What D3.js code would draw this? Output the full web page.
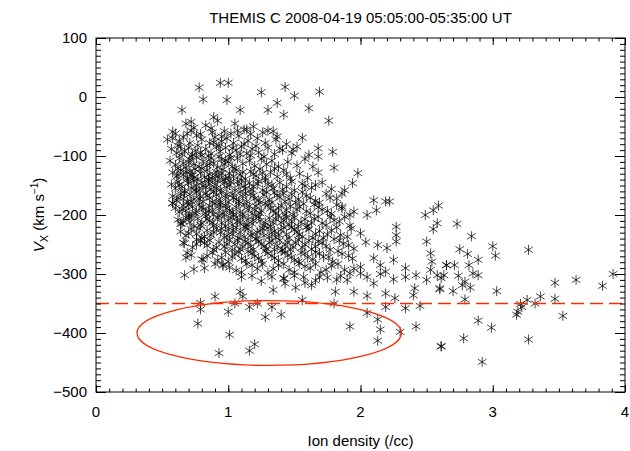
<!DOCTYPE html>
<html>
<head>
<meta charset="utf-8">
<script src="https://cdn.jsdelivr.net/npm/d3@7"></script>
<style>
  body { margin: 0; background: #fff; }
  svg { display: block; font-family: "Liberation Sans", Arial, sans-serif; }
</style>
</head>
<body>
<div id="chart"></div>
<script>
// axis ticks
const xTicks = [0, 1, 2, 3, 4];
const yTicks = [100, 0, -100, -200, -300, -400, -500];

// threshold line and marked region
const thresholdVx = -350;
const ellipseCenter = [1.31, -400];
const ellipseRadii = [1.0, 55];

// scattered points outside the dense core [density, Vx]
const outerPts = [
  [0.78, 16], [0.94, 24], [1.0, 24], [1.25, 8], [0.81, -4], [0.99, -5],
  [0.65, -22], [1.09, -22], [1.30, -22], [0.89, -34], [0.72, -42], [0.58, -59],
  [0.54, -72], [1.30, -57], [0.62, -132], [0.58, -180], [0.93, -83], [1.14, -55],
  [1.43, 17], [1.69, 9], [1.50, 2], [1.37, -10], [1.61, -19], [1.42, -30],
  [1.76, -40], [1.56, -69], [1.37, -67], [1.49, -89], [1.68, -87], [1.79, -93],
  [1.61, -98], [1.68, -101], [1.80, -120], [1.98, -129], [1.94, -146], [1.88, -158],
  [1.86, -164], [1.77, -171], [1.66, -149], [2.10, -175], [2.19, -177], [2.22, -177],
  [2.12, -192], [1.86, -189], [2.59, -184], [2.55, -192], [2.49, -200], [1.92, -200],
  [2.05, -200], [2.58, -214], [2.55, -224], [2.27, -220], [2.27, -234], [2.27, -245],
  [2.50, -245], [2.13, -251], [2.20, -256], [2.53, -265], [2.54, -279], [2.25, -276],
  [2.65, -285], [2.53, -293], [2.34, -290], [2.42, -302], [2.34, -305], [2.58, -302],
  [2.61, -307], [2.50, -310], [2.25, -309], [2.60, -326], [2.41, -324], [2.40, -336],
  [2.26, -341], [2.19, -333], [2.45, -354], [2.34, -358], [2.19, -356], [2.05, -337],
  [2.05, -366], [2.13, -377], [1.92, -389], [2.15, -394], [2.30, -398], [2.42, -389],
  [2.13, -413], [2.61, -422], [1.80, -350], [1.56, -344], [1.40, -369], [1.34, -327],
  [1.43, -316], [1.51, -323], [1.63, -319], [1.81, -330], [1.95, -330], [2.05, -305],
  [2.15, -300], [2.10, -316], [2.00, -299], [1.90, -310], [1.82, -310], [1.69, -305],
  [1.57, -305], [1.42, -307], [2.15, -285], [2.10, -273], [2.19, -296], [2.00, -288],
  [1.92, -299],
  [2.73, -215], [2.84, -236], [2.75, -258], [2.81, -266], [3.00, -253], [3.02, -269],
  [3.27, -259], [2.89, -276], [2.82, -285], [2.65, -285], [2.71, -285], [2.85, -299],
  [2.89, -302], [2.74, -303], [2.63, -302], [2.79, -313], [2.77, -319], [2.83, -323],
  [2.70, -329], [2.60, -324], [2.79, -343], [3.03, -329], [3.47, -315], [3.63, -310],
  [3.83, -320], [3.91, -300], [3.47, -342], [3.36, -338], [3.26, -344], [3.21, -351],
  [3.32, -350], [3.22, -356], [3.19, -364], [3.18, -369], [3.53, -371], [2.89, -379],
  [2.99, -391], [2.78, -409], [2.61, -423], [3.27, -411], [2.92, -449],
  [0.79, -349], [0.79, -360], [0.77, -384], [0.90, -338], [1.01, -403], [0.93, -434],
  [1.16, -430], [1.20, -419], [1.00, -364], [1.05, -350], [1.16, -356], [1.22, -350],
  [1.28, -373], [1.33, -356], [1.09, -330], [1.11, -338], [0.67, -302], [0.74, -292],
  [0.81, -276], [0.68, -272], [0.69, -264], [0.96, -284], [0.66, -247], [0.76, -242],
  [0.82, -247], [0.64, -215], [0.70, -203], [0.58, -180]
];

// dense core, estimated band by band [density, Vx]
const corePts = [
  [0.68, -45], [0.74, -52], [0.83, -48], [0.92, -40], [0.97, -58], [1.05, -45], [1.12, -55],
  [1.19, -50], [1.26, -60], [0.60, -62], [0.88, -60], [1.02, -62], [1.34, -58],
  [0.58, -70], [0.63, -75], [0.66, -68], [0.71, -78], [0.76, -65], [0.80, -72], [0.86, -78],
  [0.90, -68], [0.95, -75], [0.99, -70], [1.04, -78], [1.08, -66], [1.15, -74], [1.22, -70],
  [1.28, -78], [1.36, -72], [1.44, -80], [0.69, -62], [1.12, -80],
  [0.57, -88], [0.61, -95], [0.64, -84], [0.67, -92], [0.70, -86], [0.73, -98], [0.77, -82],
  [0.79, -94], [0.83, -88], [0.87, -96], [0.91, -84], [0.94, -92], [0.98, -86], [1.01, -98],
  [1.06, -90], [1.10, -84], [1.14, -96], [1.18, -88], [1.23, -94], [1.30, -86], [1.35, -97],
  [1.41, -90], [1.48, -95], [0.85, -100], [1.52, -84],
  [0.56, -108], [0.60, -115], [0.63, -104], [0.66, -112], [0.68, -119], [0.71, -106],
  [0.74, -114], [0.76, -102], [0.78, -118], [0.81, -109], [0.84, -116], [0.87, -104],
  [0.89, -112], [0.92, -119], [0.95, -106], [0.97, -114], [1.00, -110], [1.03, -118],
  [1.07, -104], [1.11, -113], [1.16, -108], [1.20, -117], [1.25, -105], [1.29, -114],
  [1.33, -108], [1.38, -118], [1.45, -110], [1.52, -116], [1.58, -105], [1.64, -118],
  [0.58, -128], [0.61, -135], [0.64, -124], [0.66, -132], [0.69, -138], [0.71, -126],
  [0.73, -133], [0.75, -122], [0.77, -139], [0.79, -129], [0.82, -136], [0.84, -124],
  [0.86, -131], [0.88, -139], [0.91, -127], [0.93, -134], [0.96, -123], [0.98, -138],
  [1.01, -129], [1.04, -135], [1.06, -124], [1.09, -132], [1.13, -139], [1.17, -126],
  [1.21, -134], [1.24, -122], [1.28, -137], [1.32, -128], [1.37, -135], [1.42, -124],
  [1.47, -138], [1.54, -130], [1.60, -137], [1.68, -128],
  [0.57, -148], [0.60, -155], [0.62, -144], [0.65, -152], [0.67, -159], [0.70, -146],
  [0.72, -154], [0.74, -142], [0.76, -150], [0.78, -158], [0.80, -145], [0.83, -153],
  [0.85, -141], [0.87, -156], [0.90, -148], [0.92, -142], [0.94, -157], [0.97, -146],
  [0.99, -153], [1.02, -144], [1.05, -158], [1.08, -149], [1.10, -141], [1.13, -155],
  [1.16, -146], [1.19, -152], [1.23, -143], [1.26, -158], [1.30, -148], [1.34, -155],
  [1.39, -145], [1.44, -152], [1.50, -158], [1.56, -147], [1.63, -154], [1.71, -145],
  [1.78, -156],
  [0.58, -168], [0.61, -175], [0.64, -164], [0.66, -172], [0.69, -178], [0.71, -165],
  [0.74, -173], [0.76, -161], [0.79, -169], [0.81, -177], [0.83, -163], [0.86, -171],
  [0.88, -178], [0.91, -166], [0.93, -174], [0.95, -162], [0.98, -170], [1.00, -178],
  [1.03, -165], [1.06, -173], [1.09, -161], [1.11, -169], [1.14, -177], [1.17, -164],
  [1.20, -172], [1.24, -179], [1.27, -166], [1.31, -174], [1.35, -162], [1.39, -170],
  [1.43, -177], [1.48, -165], [1.53, -173], [1.59, -168], [1.66, -176], [1.74, -164],
  [1.82, -172],
  [0.60, -188], [0.63, -195], [0.66, -184], [0.68, -192], [0.71, -199], [0.73, -186],
  [0.76, -194], [0.78, -182], [0.81, -190], [0.83, -197], [0.86, -185], [0.88, -193],
  [0.90, -181], [0.93, -189], [0.96, -197], [0.98, -184], [1.01, -192], [1.04, -199],
  [1.06, -187], [1.09, -195], [1.12, -183], [1.15, -191], [1.18, -198], [1.21, -185],
  [1.25, -193], [1.28, -181], [1.32, -189], [1.36, -197], [1.40, -184], [1.44, -192],
  [1.49, -199], [1.54, -186], [1.59, -194], [1.65, -182], [1.71, -191], [1.78, -198],
  [1.86, -186], [1.95, -194],
  [0.62, -208], [0.65, -215], [0.68, -204], [0.71, -212], [0.74, -219], [0.77, -206],
  [0.80, -214], [0.83, -202], [0.86, -210], [0.89, -218], [0.92, -205], [0.95, -213],
  [0.97, -201], [1.00, -209], [1.03, -217], [1.06, -204], [1.09, -212], [1.12, -219],
  [1.15, -207], [1.18, -215], [1.21, -202], [1.24, -210], [1.27, -218], [1.31, -205],
  [1.34, -213], [1.38, -201], [1.42, -209], [1.46, -217], [1.50, -204], [1.55, -212],
  [1.60, -219], [1.65, -206], [1.71, -214], [1.77, -203], [1.84, -211], [1.92, -218],
  [0.64, -228], [0.68, -235], [0.72, -224], [0.76, -232], [0.80, -239], [0.84, -226],
  [0.87, -234], [0.91, -222], [0.94, -230], [0.97, -238], [1.00, -225], [1.03, -233],
  [1.06, -221], [1.09, -229], [1.12, -237], [1.15, -224], [1.18, -232], [1.21, -240],
  [1.24, -227], [1.27, -235], [1.30, -222], [1.33, -230], [1.36, -238], [1.40, -225],
  [1.44, -233], [1.48, -221], [1.52, -229], [1.56, -237], [1.61, -224], [1.66, -232],
  [1.72, -239], [1.78, -226], [1.85, -234], [1.93, -223], [2.00, -231],
  [0.67, -248], [0.73, -255], [0.79, -244], [0.84, -252], [0.89, -259], [0.93, -246],
  [0.97, -254], [1.01, -242], [1.05, -250], [1.09, -258], [1.13, -245], [1.17, -253],
  [1.21, -241], [1.25, -249], [1.29, -257], [1.33, -244], [1.37, -252], [1.41, -259],
  [1.45, -246], [1.49, -254], [1.53, -242], [1.58, -250], [1.63, -258], [1.68, -245],
  [1.74, -253], [1.80, -241], [1.87, -249], [1.95, -257], [2.04, -246],
  [0.72, -268], [0.80, -275], [0.88, -264], [0.95, -272], [1.00, -279], [1.05, -266],
  [1.10, -274], [1.15, -262], [1.20, -270], [1.25, -278], [1.30, -265], [1.35, -273],
  [1.40, -261], [1.45, -269], [1.50, -277], [1.55, -264], [1.60, -272], [1.66, -263],
  [1.72, -271], [1.79, -279], [1.86, -266], [1.94, -274],
  [0.82, -290], [0.96, -286], [1.06, -294], [1.14, -283], [1.22, -291], [1.30, -298],
  [1.38, -285], [1.46, -293], [1.54, -282], [1.62, -290], [1.70, -297], [1.78, -286],
  [1.88, -293],
  [1.10, -305], [1.25, -312], [1.42, -308], [1.58, -315], [1.75, -306]
];

// second pass over the darkest part of the core [density, Vx]
const corePts2 = [
  [0.72, -57], [0.79, -63], [0.87, -53], [0.95, -67], [1.07, -57], [1.17, -63],
  [0.62, -83], [0.75, -91], [0.89, -77], [1.03, -87], [1.21, -83], [1.39, -87],
  [0.65, -97], [0.72, -101], [0.80, -99], [0.86, -113], [0.93, -101], [1.02, -103],
  [1.09, -97], [1.17, -99], [1.27, -101], [0.70, -111], [0.98, -107],
  [0.62, -121], [0.68, -127], [0.74, -137], [0.80, -121], [0.85, -139], [0.90, -133],
  [0.95, -129], [1.00, -137], [1.05, -121], [1.11, -127], [1.19, -131], [1.26, -129],
  [1.35, -121], [1.44, -131], [0.72, -131],
  [0.63, -149], [0.69, -141], [0.75, -157], [0.81, -151], [0.86, -147], [0.91, -155],
  [0.96, -141], [1.01, -149], [1.07, -143], [1.12, -151], [1.18, -157], [1.22, -147],
  [1.28, -141], [1.33, -149], [1.41, -157], [1.48, -143], [1.58, -151],
  [0.62, -171], [0.67, -163], [0.72, -177], [0.78, -173], [0.84, -167], [0.89, -161],
  [0.94, -179], [0.99, -165], [1.04, -171], [1.08, -177], [1.13, -163], [1.19, -167],
  [1.23, -175], [1.29, -161], [1.33, -179], [1.37, -167], [1.42, -163], [1.46, -173],
  [1.51, -179], [1.56, -161], [1.62, -171], [1.69, -179],
  [0.65, -191], [0.70, -183], [0.75, -197], [0.80, -187], [0.85, -193], [0.89, -199],
  [0.94, -183], [0.99, -189], [1.03, -195], [1.08, -181], [1.11, -199], [1.16, -185],
  [1.20, -191], [1.24, -197], [1.30, -183], [1.34, -193], [1.38, -189], [1.43, -199],
  [1.47, -185], [1.52, -191], [1.57, -181], [1.62, -197], [1.68, -187], [1.75, -193],
  [1.82, -183],
  [0.66, -211], [0.72, -203], [0.79, -217], [0.84, -207], [0.88, -213], [0.93, -201],
  [0.98, -219], [1.02, -205], [1.07, -211], [1.11, -203], [1.14, -217], [1.19, -209],
  [1.23, -203], [1.28, -213], [1.32, -219], [1.36, -207], [1.40, -213], [1.44, -203],
  [1.48, -211], [1.53, -219], [1.58, -207], [1.63, -213], [1.68, -203], [1.74, -217],
  [1.80, -209], [1.88, -203],
  [0.70, -231], [0.78, -223], [0.82, -237], [0.89, -229], [0.95, -223], [0.99, -235],
  [1.04, -227], [1.08, -239], [1.13, -221], [1.17, -235], [1.22, -229], [1.26, -223],
  [1.31, -237], [1.35, -227], [1.38, -233], [1.42, -221], [1.46, -239], [1.50, -225],
  [1.54, -233], [1.59, -221], [1.64, -239], [1.69, -227], [1.75, -233], [1.82, -221],
  [1.90, -237],
  [0.76, -249], [0.86, -243], [0.91, -255], [0.99, -249], [1.03, -259], [1.07, -243],
  [1.11, -253], [1.15, -247], [1.19, -259], [1.23, -245], [1.27, -253], [1.31, -247],
  [1.35, -259], [1.39, -243], [1.43, -251], [1.47, -259], [1.51, -247], [1.56, -255],
  [1.61, -243], [1.66, -253], [1.71, -247], [1.77, -259], [1.84, -243], [1.91, -251],
  [0.84, -269], [0.92, -277], [0.98, -263], [1.03, -271], [1.08, -263], [1.13, -277],
  [1.18, -265], [1.23, -273], [1.28, -261], [1.33, -269], [1.38, -277], [1.43, -263],
  [1.48, -271], [1.53, -279], [1.58, -265], [1.64, -275], [1.69, -265], [1.76, -271],
  [1.83, -261], [1.91, -269],
  [0.90, -283], [1.01, -289], [1.10, -297], [1.18, -285], [1.26, -283], [1.34, -291],
  [1.42, -283], [1.50, -297], [1.58, -287], [1.66, -283], [1.74, -293], [1.83, -283],
  [1.95, -291],
  [1.18, -303], [1.33, -305], [1.50, -303], [1.66, -311], [1.85, -303]
];

const W = 630, H = 451;
const margin = { top: 38, right: 5, bottom: 59, left: 96 };
const width = W - margin.left - margin.right;
const height = H - margin.top - margin.bottom;
const red = "#ff2a00";

const svg = d3.select("#chart").append("svg")
  .attr("width", W)
  .attr("height", H);

const g = svg.append("g")
  .attr("transform", `translate(${margin.left},${margin.top})`);

const x = d3.scaleLinear().domain([0, 4]).range([0, width]);
const y = d3.scaleLinear().domain([-500, 100]).range([height, 0]);

// =========================
// POINTS (asterisks)
// =========================
const star = "M0,-5L0,5M-4.3,-2.8L4.3,2.8M-4.3,2.8L4.3,-2.8";
const allPts = corePts.concat(corePts2, outerPts);

g.append("g")
  .selectAll("path")
  .data(allPts)
  .join("path")
  .attr("transform", d => `translate(${x(d[0])},${y(d[1])})`)
  .attr("d", star)
  .attr("fill", "none")
  .attr("stroke", "#000")
  .attr("stroke-opacity", 0.8)
  .attr("stroke-width", 0.9);

// =========================
// THRESHOLD + ELLIPSE
// =========================
g.append("line")
  .attr("x1", 0).attr("x2", width)
  .attr("y1", y(thresholdVx)).attr("y2", y(thresholdVx))
  .attr("stroke", red)
  .attr("stroke-width", 1.3)
  .attr("stroke-dasharray", "13,6");

g.append("ellipse")
  .attr("cx", x(ellipseCenter[0]))
  .attr("cy", y(ellipseCenter[1]))
  .attr("rx", x(ellipseRadii[0]) - x(0))
  .attr("ry", y(ellipseCenter[1] - ellipseRadii[1]) - y(ellipseCenter[1]))
  .attr("fill", "none")
  .attr("stroke", red)
  .attr("stroke-width", 1.3);

// =========================
// AXES (IDL style box, inward ticks)
// =========================
const xMinor = d3.range(0, 41).map(i => i / 10);
const yMinor = d3.range(-50, 11).map(i => i * 10);

function tickAxis(axisFn, scale, vals, len) {
  return axisFn(scale).tickValues(vals).tickSize(len).tickFormat("");
}

const axisStyle = sel => {
  sel.select(".domain").remove();
  sel.selectAll("line").attr("stroke", "#000").attr("stroke-width", 1);
};

// bottom
g.append("g").attr("transform", `translate(0,${height})`)
  .call(tickAxis(d3.axisTop, x, xMinor, 3.5)).call(axisStyle);
g.append("g").attr("transform", `translate(0,${height})`)
  .call(tickAxis(d3.axisTop, x, xTicks, 7)).call(axisStyle);
// top
g.append("g")
  .call(tickAxis(d3.axisBottom, x, xMinor, 3.5)).call(axisStyle);
g.append("g")
  .call(tickAxis(d3.axisBottom, x, xTicks, 7)).call(axisStyle);
// left
g.append("g")
  .call(tickAxis(d3.axisRight, y, yMinor, 5)).call(axisStyle);
g.append("g")
  .call(tickAxis(d3.axisRight, y, yTicks, 10)).call(axisStyle);
// right
g.append("g").attr("transform", `translate(${width},0)`)
  .call(tickAxis(d3.axisLeft, y, yMinor, 5)).call(axisStyle);
g.append("g").attr("transform", `translate(${width},0)`)
  .call(tickAxis(d3.axisLeft, y, yTicks, 10)).call(axisStyle);

g.append("rect")
  .attr("width", width).attr("height", height)
  .attr("fill", "none").attr("stroke", "#000").attr("stroke-width", 1);

const fmt = v => (v < 0 ? "\u2212" + Math.abs(v) : String(v));

g.append("g").selectAll("text")
  .data(xTicks)
  .join("text")
  .attr("x", d => x(d))
  .attr("y", height + 25)
  .attr("text-anchor", "middle")
  .style("font-size", "15px")
  .text(fmt);

g.append("g").selectAll("text")
  .data(yTicks)
  .join("text")
  .attr("x", -9)
  .attr("y", d => y(d) + 5)
  .attr("text-anchor", "end")
  .style("font-size", "15px")
  .text(fmt);

// =========================
// TITLE + LABELS
// =========================
svg.append("text")
  .attr("x", margin.left + width / 2)
  .attr("y", 23)
  .attr("text-anchor", "middle")
  .style("font-size", "15px")
  .text("THEMIS C 2008-04-19 05:05:00-05:35:00 UT");

svg.append("text")
  .attr("x", margin.left + width / 2)
  .attr("y", 446)
  .attr("text-anchor", "middle")
  .style("font-size", "15px")
  .text("Ion density (/cc)");

const yl = svg.append("text")
  .attr("transform", `translate(44,${margin.top + height / 2}) rotate(-90)`)
  .attr("text-anchor", "middle")
  .style("font-size", "15px");
yl.append("tspan").style("font-style", "italic").text("V");
yl.append("tspan").attr("dy", 4).style("font-size", "11px").text("X");
yl.append("tspan").attr("dy", -4).text(" (km s");
yl.append("tspan").attr("dy", -6).style("font-size", "10px").text("\u22121");
yl.append("tspan").attr("dy", 6).text(")");
</script>
</body>
</html>
